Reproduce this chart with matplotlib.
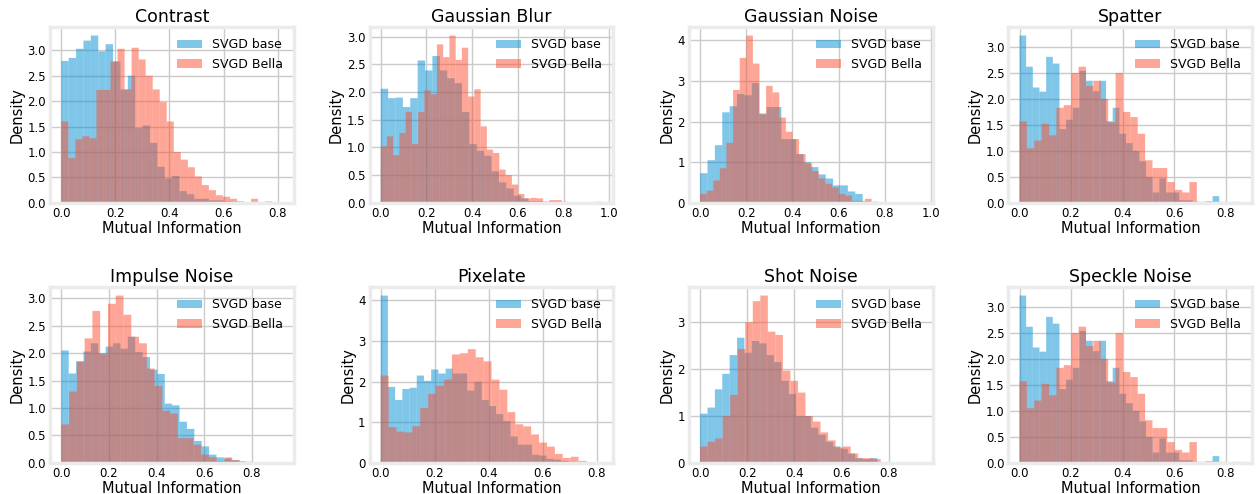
import numpy as np
import matplotlib
matplotlib.use("Agg")
from matplotlib import pyplot as plt

titles = ["Contrast", "Gaussian Blur", "Gaussian Noise", "Spatter",
          "Impulse Noise", "Pixelate", "Shot Noise", "Speckle Noise"]
labels = ["SVGD base", "SVGD Bella"]

# density per bin (bins start at 0, end at *_max)
contrast_base = [2.79, 2.85, 3.03, 3.19, 3.29, 2.98, 3.12, 2.78, 2.23, 2.50,
                 1.47, 1.52, 1.18, 0.71, 0.48, 0.53, 0.23, 0.17, 0.08, 0.08,
                 0.05, 0.05, 0.03, 0.02, 0.01, 0.01, 0.0, 0.0, 0.0, 0.01]
contrast_bella = [1.60, 0.88, 1.25, 1.31, 1.27, 2.22, 2.22, 2.78, 3.03, 2.23,
                  3.05, 2.82, 2.50, 2.23, 1.98, 1.60, 1.00, 0.85, 0.70, 0.52,
                  0.35, 0.25, 0.15, 0.12, 0.08, 0.03, 0.0, 0.08, 0.0, 0.03]
blur_base = [2.06, 1.89, 1.90, 1.73, 1.89, 2.57, 2.39, 2.65, 2.39, 2.25,
             2.16, 1.64, 1.06, 0.94, 0.85, 0.57, 0.37, 0.26, 0.13, 0.08,
             0.03, 0.03, 0.02, 0.02, 0.01, 0.01, 0.01, 0.0, 0.0, 0.02]
blur_bella = [1.02, 1.20, 0.86, 1.26, 1.64, 1.06, 1.64, 2.03, 1.96, 2.86,
              2.63, 3.02, 2.58, 2.80, 1.92, 2.05, 1.38, 0.96, 0.90, 0.60,
              0.50, 0.33, 0.16, 0.08, 0.09, 0.08, 0.02, 0.05, 0.05, 0.02]
gnoise_base = [0.73, 1.05, 1.42, 2.23, 2.38, 2.68, 2.65, 2.95, 2.20, 2.36,
               2.36, 1.57, 1.57, 1.20, 1.00, 0.88, 0.70, 0.60, 0.43, 0.43,
               0.28, 0.22, 0.02, 0.01, 0.0, 0.0, 0.0, 0.0, 0.0, 0.01]
gnoise_bella = [0.22, 0.30, 0.55, 0.85, 1.48, 2.78, 3.57, 4.12, 3.43, 2.18,
                2.88, 2.72, 2.10, 1.75, 1.57, 1.20, 0.97, 0.78, 0.60, 0.47,
                0.38, 0.22, 0.18, 0.05, 0.05, 0.10, 0.03, 0.02]
spatter_base = [3.22, 2.62, 2.22, 2.14, 2.81, 2.68, 1.42, 1.60, 1.83, 2.54,
                2.35, 2.15, 2.35, 1.57, 1.83, 1.33, 1.15, 1.00, 0.80, 0.50,
                0.20, 0.47, 0.20, 0.20, 0.05, 0.05, 0.02, 0.0, 0.03, 0.13]
spatter_bella = [1.57, 1.05, 1.20, 1.52, 1.30, 1.83, 1.88, 2.50, 2.62, 2.25,
                 2.35, 2.00, 1.55, 2.50, 1.75, 1.65, 1.33, 0.82, 0.67, 0.67,
                 0.40, 0.25, 0.20, 0.40, 0.02, 0.02, 0.0, 0.02, 0.0, 0.02]
impulse_base = [2.05, 1.63, 1.85, 2.03, 2.18, 2.00, 2.12, 2.18, 2.08, 2.30,
                2.02, 1.93, 1.70, 1.62, 1.08, 1.05, 0.75, 0.62, 0.40, 0.30,
                0.15, 0.10, 0.08, 0.05, 0.03, 0.02, 0.0, 0.0, 0.0, 0.01]
impulse_bella = [0.70, 1.30, 1.85, 2.27, 2.77, 1.98, 2.90, 3.05, 2.70, 2.30,
                 2.18, 1.72, 1.40, 0.95, 0.90, 0.45, 0.45, 0.33, 0.15, 0.10,
                 0.03, 0.10, 0.05]
pixelate_base = [4.12, 1.87, 1.55, 1.82, 1.85, 2.15, 2.02, 2.30, 2.20, 2.32,
                 2.20, 2.20, 1.78, 2.00, 1.55, 1.40, 1.20, 1.03, 0.65, 0.45,
                 0.45, 0.20, 0.18, 0.10, 0.08, 0.05, 0.03, 0.02, 0.0, 0.01]
pixelate_bella = [2.15, 0.88, 0.77, 0.75, 0.90, 1.35, 1.70, 1.90, 2.05, 2.67,
                  2.70, 2.80, 2.60, 2.50, 2.05, 1.80, 1.25, 0.95, 0.90, 0.70,
                  0.50, 0.40, 0.22, 0.12, 0.15, 0.05, 0.02, 0.02]
shot_base = [1.05, 1.18, 1.57, 1.90, 2.30, 2.67, 2.35, 2.60, 2.55, 2.30,
             2.15, 1.75, 1.47, 1.00, 1.00, 0.75, 0.60, 0.45, 0.35, 0.30,
             0.20, 0.10, 0.08, 0.10, 0.0, 0.0, 0.0, 0.0, 0.0, 0.01]
shot_bella = [0.35, 0.45, 0.52, 1.00, 1.45, 2.43, 3.00, 3.45, 3.57, 2.80,
              2.73, 1.97, 1.75, 1.50, 1.00, 0.88, 0.65, 0.48, 0.33, 0.35,
              0.20, 0.10, 0.10, 0.08, 0.02, 0.01]
speckle_base = spatter_base
speckle_bella = spatter_bella

base_heights = [contrast_base, blur_base, gnoise_base, spatter_base,
                impulse_base, pixelate_base, shot_base, speckle_base]
bella_heights = [contrast_bella, blur_bella, gnoise_bella, spatter_bella,
                 impulse_bella, pixelate_bella, shot_bella, speckle_bella]
base_max = [0.82, 0.97, 0.96, 0.775, 0.93, 0.80, 0.94, 0.775]
bella_max = [0.78, 0.82, 0.80, 0.86, 0.75, 0.82, 0.83, 0.86]

blue = "#008fd5"
red = "#fc4f30"

fig, axes = plt.subplots(2, 4, figsize=(12.56, 4.94), dpi=100)
fig.subplots_adjust(left=0.04, right=0.997, top=0.945, bottom=0.063,
                    wspace=0.31, hspace=0.48)

for ax, title, hb, hr, mb, mr in zip(axes.flat, titles, base_heights,
                                     bella_heights, base_max, bella_max):
    eb = np.linspace(0, mb, len(hb) + 1)
    er = np.linspace(0, mr, len(hr) + 1)
    # snap off -> the faint darker seams between neighbouring bars
    ax.hist(eb[:-1], bins=eb, weights=hb, color=blue, alpha=0.5,
            snap=False, label=labels[0])
    ax.hist(er[:-1], bins=er, weights=hr, color=red, alpha=0.5,
            snap=False, label=labels[1])
    ax.set_title(title, fontsize=12.5, pad=4)
    ax.set_xlabel("Mutual Information", fontsize=10.5, labelpad=1)
    ax.set_ylabel("Density", fontsize=10.5, labelpad=2)
    ax.set_facecolor("white")
    ax.grid(True, color="#cbcbcb", linewidth=1)
    ax.set_axisbelow(True)
    ax.tick_params(length=0, labelsize=8.5, pad=3)
    for s in ax.spines.values():
        s.set_color("#ebebeb")
        s.set_linewidth(2.5)
    ax.legend(loc="upper right", frameon=False, fontsize=9)

fig.savefig("out.png", dpi=100, facecolor="white")
